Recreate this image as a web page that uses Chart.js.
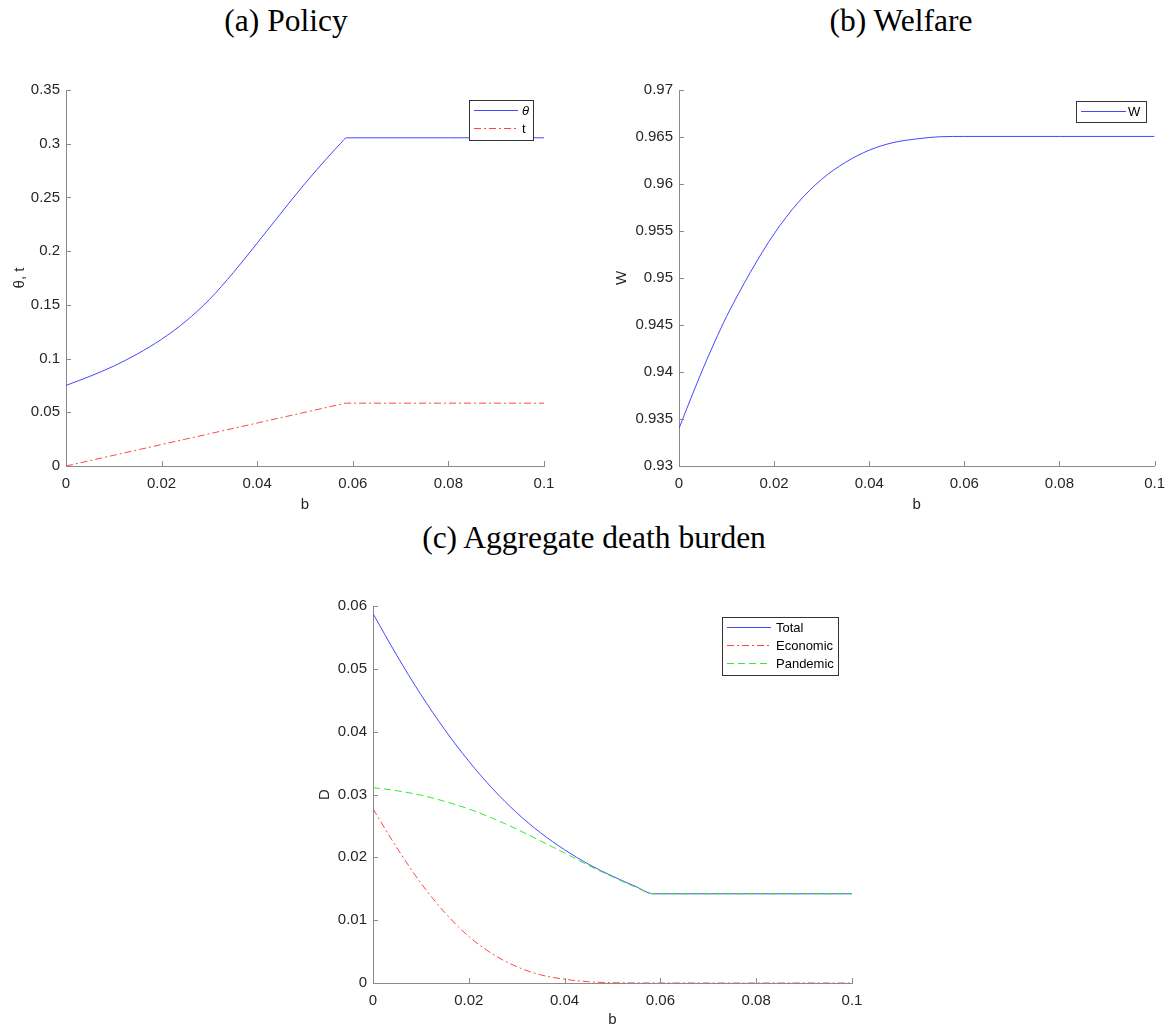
<!DOCTYPE html>
<html lang="en">
<head>
  <meta charset="UTF-8" />
  <title>Policy, welfare and death burden</title>
  <script src="https://cdn.jsdelivr.net/npm/chart.js"></script>
  <style>
    body {
      margin: 0;
      background: #fff;
      width: 1174px;
      height: 1032px;
      position: relative;
      overflow: hidden;
    }
    .panel-title {
      position: absolute;
      width: 400px;
      text-align: center;
      font-family: "Liberation Serif", serif;
      font-size: 31.5px;
      line-height: 32px;
      color: #000;
    }
    canvas {
      position: absolute;
    }
  </style>
</head>
<body>
  <div class="panel-title" style="left: 86px; top: 5px;">(a) Policy</div>
  <div class="panel-title" style="left: 701px; top: 5px;">(b) Welfare</div>
  <div class="panel-title" style="left: 394px; top: 522px;">(c) Aggregate death burden</div>

  <canvas id="policyChart" width="580" height="470" style="left: 0px; top: 60px;"></canvas>
  <canvas id="welfareChart" width="574" height="470" style="left: 600px; top: 60px;"></canvas>
  <canvas id="deathChart" width="600" height="456" style="left: 290px; top: 576px;"></canvas>

  <script>
    // Tick values
    const bTicks = [0, 0.02, 0.04, 0.06, 0.08, 0.1];
    const policyTicks = [0, 0.05, 0.1, 0.15, 0.2, 0.25, 0.3, 0.35];
    const welfareTicks = [0.93, 0.935, 0.94, 0.945, 0.95, 0.955, 0.96, 0.965, 0.97];
    const deathTicks = [0, 0.01, 0.02, 0.03, 0.04, 0.05, 0.06];

    // (a) policy: lockdown intensity theta and tax t against b
    const bPolicy = [0, 0.005, 0.01, 0.015, 0.02, 0.025, 0.03, 0.035, 0.04, 0.045, 0.05, 0.055, 0.0575, 0.0587, 0.07, 0.08, 0.09, 0.1];
    const thetaVals = [0.075, 0.0835, 0.093, 0.1045, 0.118, 0.1345, 0.155, 0.18, 0.2075, 0.2355, 0.263, 0.2885, 0.3005, 0.3055, 0.3055, 0.3055, 0.3055, 0.3055];
    const taxVals = [0, 0.005, 0.01, 0.015, 0.02, 0.025, 0.03, 0.035, 0.04, 0.045, 0.05, 0.055, 0.0575, 0.0585, 0.0585, 0.0585, 0.0585, 0.0585];

    // (b) welfare
    const bWelfare = [0, 0.0025, 0.005, 0.0075, 0.01, 0.015, 0.02, 0.025, 0.03, 0.035, 0.04, 0.045, 0.05, 0.055, 0.06, 0.07, 0.08, 0.09, 0.1];
    const welfareVals = [0.934, 0.9372, 0.9403, 0.9432, 0.9459, 0.9506, 0.9547, 0.958, 0.9605, 0.9623, 0.9636, 0.9644, 0.9648, 0.96503, 0.96506, 0.96506, 0.96506, 0.96506, 0.96506];

    // (c) death burden split into economic and pandemic parts
    const bDeath = [0, 0.005, 0.01, 0.015, 0.02, 0.025, 0.03, 0.035, 0.04, 0.045, 0.05, 0.055, 0.0585, 0.07, 0.08, 0.09, 0.1];
    const totalVals = [0.0588, 0.0521, 0.0459, 0.0403, 0.0353, 0.0309, 0.0271, 0.0239, 0.0212, 0.0189, 0.017, 0.0153, 0.0142, 0.0142, 0.0142, 0.0142, 0.0142];
    const economicVals = [0.0277, 0.0215, 0.0159, 0.0112, 0.0074, 0.0046, 0.0026, 0.0013, 0.0006, 0.0002, 0.00005, 0.00001, 0, 0, 0, 0, 0];
    const pandemicVals = [0.0311, 0.0306, 0.0299, 0.0289, 0.0277, 0.0262, 0.0245, 0.0226, 0.0207, 0.0187, 0.0169, 0.0152, 0.0142, 0.0142, 0.0142, 0.0142, 0.0142];

    const BLUE = "rgb(70, 70, 255)";
    const RED = "rgb(255, 70, 70)";
    const GREEN = "rgb(50, 235, 50)";
    const DASH_DOT = [7, 3, 2, 3];
    const DASHED = [7, 4];
    const AXIS_COLOR = "#8a8a8a";
    const TEXT_COLOR = "#262626";
    const SANS = "'Liberation Sans', Arial, sans-serif";

    const toPoints = (xs, ys) => xs.map((x, i) => ({ x: x, y: ys[i] }));
    const fmt = (v) => String(parseFloat(v.toFixed(4)));

    // ticks point into the plot area
    const inwardTicks = {
      id: "inwardTicks",
      afterDraw(chart) {
        const { ctx, chartArea, scales } = chart;
        const len = 5;
        ctx.save();
        ctx.strokeStyle = AXIS_COLOR;
        ctx.lineWidth = 1;
        ctx.setLineDash([]);
        ctx.beginPath();
        scales.x.ticks.forEach((t) => {
          const px = Math.round(scales.x.getPixelForValue(t.value)) + 0.5;
          ctx.moveTo(px, chartArea.bottom);
          ctx.lineTo(px, chartArea.bottom - len);
        });
        scales.y.ticks.forEach((t) => {
          const py = Math.round(scales.y.getPixelForValue(t.value)) + 0.5;
          ctx.moveTo(chartArea.left, py);
          ctx.lineTo(chartArea.left + len, py);
        });
        ctx.stroke();
        ctx.restore();
      }
    };

    // boxed legend inside the plot area; sample lines are filled as 1px dash runs
    const boxLegend = {
      id: "boxLegend",
      afterDraw(chart, args, opts) {
        const { ctx } = chart;
        const datasets = chart.data.datasets;
        ctx.save();
        ctx.setLineDash([]);
        ctx.fillStyle = "#fff";
        ctx.fillRect(opts.x, opts.y, opts.w, opts.h);
        ctx.strokeStyle = "#333";
        ctx.lineWidth = 1;
        ctx.strokeRect(opts.x + 0.5, opts.y + 0.5, opts.w, opts.h);
        datasets.forEach((ds, i) => {
          const ry = opts.rows[i];
          const pattern = ds.borderDash && ds.borderDash.length ? ds.borderDash : [opts.x1 - opts.x0, 0];
          ctx.fillStyle = ds.borderColor;
          let x = opts.x0;
          let k = 0;
          while (x < opts.x1) {
            const run = Math.min(pattern[k % pattern.length], opts.x1 - x);
            if (k % 2 === 0) ctx.fillRect(x, ry, run, 1);
            x += pattern[k % pattern.length];
            k++;
          }
          ctx.fillStyle = "#000";
          ctx.font = (ds.label === "θ" ? "italic " : "") + "13px " + SANS;
          ctx.textBaseline = "middle";
          ctx.textAlign = "left";
          ctx.fillText(ds.label, opts.textX, ry + 1);
        });
        ctx.restore();
      }
    };

    function makeChart(id, cfg) {
      return new Chart(document.getElementById(id), {
        type: "line",
        data: { datasets: cfg.datasets },
        options: {
          responsive: false,
          animation: false,
          layout: { padding: cfg.padding },
          elements: {
            point: { radius: 0 },
            line: { cubicInterpolationMode: "monotone", borderWidth: 1 }
          },
          plugins: {
            legend: { display: false },
            tooltip: { enabled: false },
            boxLegend: cfg.legend
          },
          scales: {
            x: {
              type: "linear",
              min: 0,
              max: 0.1,
              afterBuildTicks: (s) => { s.ticks = bTicks.map((v) => ({ value: v })); },
              afterFit: (s) => { s.height = cfg.xAxisHeight; },
              grid: { display: false, drawTicks: false },
              border: { display: true, color: AXIS_COLOR, width: 1 },
              ticks: { color: TEXT_COLOR, padding: 9, font: { family: SANS, size: 15 }, callback: fmt, maxRotation: 0 },
              title: { display: true, text: "b", color: TEXT_COLOR, font: { family: SANS, size: 15 }, padding: { top: 0, bottom: cfg.xTitlePad } }
            },
            y: {
              type: "linear",
              min: cfg.yTicks[0],
              max: cfg.yTicks[cfg.yTicks.length - 1],
              afterBuildTicks: (s) => { s.ticks = cfg.yTicks.map((v) => ({ value: v })); },
              afterFit: (s) => { s.width = cfg.yAxisWidth; },
              grid: { display: false, drawTicks: false },
              border: { display: true, color: AXIS_COLOR, width: 1 },
              ticks: { color: TEXT_COLOR, padding: 6, font: { family: SANS, size: 15 }, callback: fmt },
              title: { display: true, text: cfg.yTitle, color: TEXT_COLOR, font: { family: SANS, size: 15 }, padding: { top: cfg.yTitlePad, bottom: 0 } }
            }
          }
        },
        plugins: [inwardTicks, boxLegend]
      });
    }

    makeChart("policyChart", {
      datasets: [
        { label: "θ", data: toPoints(bPolicy, thetaVals), borderColor: BLUE, borderWidth: 1, order: 1 },
        { label: "t", data: toPoints(bPolicy, taxVals), borderColor: RED, borderWidth: 1, borderDash: DASH_DOT, order: 0 }
      ],
      yTicks: policyTicks,
      yTitle: "θ, t",
      padding: { left: 0, top: 30, right: 36, bottom: 0 },
      yAxisWidth: 66,
      xAxisHeight: 64,
      xTitlePad: 16,
      yTitlePad: 11,
      legend: { x: 469, y: 40, w: 64, h: 40, rows: [50, 68], x0: 474, x1: 518, textX: 522 }
    });

    makeChart("welfareChart", {
      datasets: [
        { label: "W", data: toPoints(bWelfare, welfareVals), borderColor: BLUE, borderWidth: 1 }
      ],
      yTicks: welfareTicks,
      yTitle: "W",
      padding: { left: 0, top: 30, right: 17, bottom: 0 },
      yAxisWidth: 79,
      xAxisHeight: 64,
      xTitlePad: 16,
      yTitlePad: 13,
      legend: { x: 476, y: 41, w: 70, h: 21, rows: [51], x0: 481, x1: 526, textX: 528 }
    });

    makeChart("deathChart", {
      datasets: [
        { label: "Total", data: toPoints(bDeath, totalVals), borderColor: BLUE, borderWidth: 1, order: 2 },
        { label: "Economic", data: toPoints(bDeath, economicVals), borderColor: RED, borderWidth: 1, borderDash: DASH_DOT, order: 1 },
        { label: "Pandemic", data: toPoints(bDeath, pandemicVals), borderColor: GREEN, borderWidth: 1, borderDash: DASHED, order: 0 }
      ],
      yTicks: deathTicks,
      yTitle: "D",
      padding: { left: 0, top: 30, right: 38, bottom: 0 },
      yAxisWidth: 83,
      xAxisHeight: 49,
      xTitlePad: 3,
      yTitlePad: 26,
      legend: { x: 432, y: 41, w: 116, h: 58, rows: [51, 69, 87], x0: 437, x1: 481, textX: 486 }
    });
  </script>
</body>
</html>
